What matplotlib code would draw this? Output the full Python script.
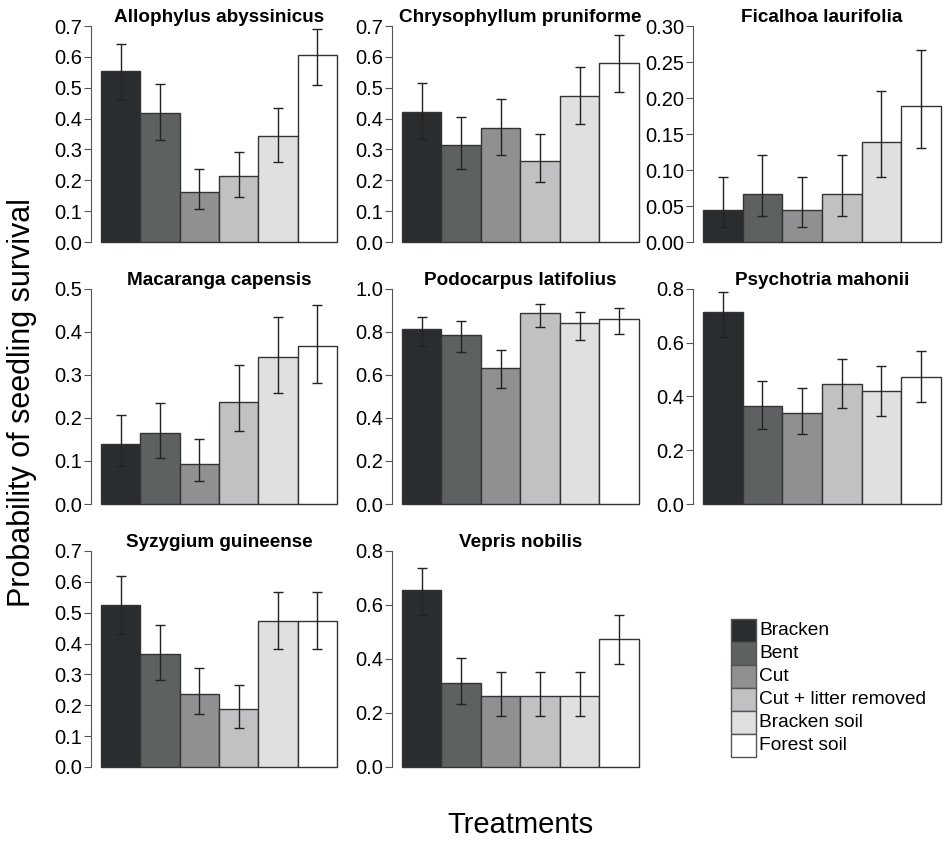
import matplotlib
matplotlib.use('Agg')
import matplotlib.pyplot as plt
import numpy as np

plt.rcParams['font.family'] = ['Liberation Sans', 'DejaVu Sans']

treatments = ['Bracken', 'Bent', 'Cut', 'Cut + litter removed', 'Bracken soil', 'Forest soil']
fills = ['#2a2d2f', '#5e6162', '#8f9091', '#c0c1c2', '#e0e0e0', '#ffffff']

species = ['Allophylus abyssinicus', 'Chrysophyllum pruniforme', 'Ficalhoa laurifolia',
           'Macaranga capensis', 'Podocarpus latifolius', 'Psychotria mahonii',
           'Syzygium guineense', 'Vepris nobilis']

# estimated survival probability and confidence limits, one row per species
prob = [
    [0.553, 0.418, 0.162, 0.213, 0.342, 0.607],
    [0.420, 0.315, 0.369, 0.264, 0.473, 0.581],
    [0.044, 0.067, 0.044, 0.067, 0.139, 0.189],
    [0.139, 0.164, 0.092, 0.237, 0.342, 0.368],
    [0.813, 0.787, 0.633, 0.888, 0.840, 0.860],
    [0.713, 0.366, 0.338, 0.445, 0.422, 0.472],
    [0.526, 0.366, 0.238, 0.187, 0.474, 0.474],
    [0.657, 0.312, 0.262, 0.262, 0.262, 0.474],
]
lower = [
    [0.459, 0.332, 0.108, 0.147, 0.260, 0.509],
    [0.333, 0.238, 0.282, 0.193, 0.381, 0.485],
    [0.021, 0.036, 0.021, 0.036, 0.090, 0.130],
    [0.089, 0.108, 0.053, 0.170, 0.258, 0.281],
    [0.736, 0.705, 0.540, 0.821, 0.762, 0.792],
    [0.622, 0.280, 0.260, 0.356, 0.328, 0.379],
    [0.431, 0.283, 0.171, 0.127, 0.381, 0.381],
    [0.564, 0.235, 0.190, 0.190, 0.190, 0.380],
]
upper = [
    [0.643, 0.513, 0.236, 0.293, 0.433, 0.691],
    [0.515, 0.406, 0.462, 0.351, 0.568, 0.671],
    [0.090, 0.121, 0.090, 0.121, 0.210, 0.266],
    [0.207, 0.236, 0.151, 0.323, 0.434, 0.463],
    [0.872, 0.851, 0.715, 0.930, 0.891, 0.910],
    [0.788, 0.459, 0.431, 0.540, 0.513, 0.569],
    [0.619, 0.460, 0.322, 0.266, 0.566, 0.566],
    [0.737, 0.405, 0.351, 0.351, 0.351, 0.563],
]
ytop = [0.7, 0.7, 0.30, 0.5, 1.0, 0.8, 0.7, 0.8]
ystep = [0.1, 0.1, 0.05, 0.1, 0.2, 0.2, 0.1, 0.2]
yfmt = ['%.1f', '%.1f', '%.2f', '%.1f', '%.1f', '%.1f', '%.1f', '%.1f']

W, H = 944, 842
fig = plt.figure(figsize=(W / 100, H / 100), dpi=100)

col_left = [91, 392, 693]
col_right = [337, 639, 941]
row_top = [26, 289, 551]
row_bot = [242, 504, 767]

edge = '#333333'
for i, name in enumerate(species):
    r, c = divmod(i, 3)
    l, t = col_left[c], row_top[r]
    ax = fig.add_axes([l / W, 1 - row_bot[r] / H, (col_right[c] - l) / W, (row_bot[r] - t) / H])
    x = np.arange(6)
    p = np.array(prob[i])
    err = [p - np.array(lower[i]), np.array(upper[i]) - p]
    bars = ax.bar(x, p, width=1, align='edge', color=fills, edgecolor=edge, linewidth=1)
    for b in bars:
        b.set_clip_on(False)
    ax.errorbar(x + 0.5, p, yerr=err, fmt='none', ecolor='#222222', elinewidth=1,
                capsize=3.6, capthick=1, clip_on=False)
    ax.set_xlim(-0.25, 6)
    ax.set_ylim(0, ytop[i])
    ticks = np.arange(0, ytop[i] + ystep[i] / 2, ystep[i])
    ax.set_yticks(ticks)
    ax.set_yticklabels([yfmt[i] % v for v in ticks])
    ax.set_xticks([])
    for s in ['top', 'right', 'bottom']:
        ax.spines[s].set_visible(False)
    ax.spines['left'].set_color('#555555')
    ax.tick_params(axis='y', direction='out', length=5, width=0.8, color='#555555',
                   labelsize=14.5, pad=1.5)
    ax.patch.set_visible(False)
    ax.annotate(name, xy=(3, 1), xycoords=('data', 'axes fraction'), xytext=(0, 3),
                textcoords='offset points', ha='center', va='baseline',
                fontsize=13.6, fontweight='bold')

# legend drawn as a small stack of boxes
lax = fig.add_axes([731 / W, 1 - 757 / H, 25 / W, 138 / H])
lbars = lax.barh(np.arange(6), 1, height=1, left=0, align='edge', color=fills,
                 edgecolor='#555555', linewidth=1)
for b in lbars:
    b.set_clip_on(False)
lax.set_xlim(0, 1)
lax.set_ylim(6, 0)
lax.axis('off')
for k, lab in enumerate(treatments):
    lax.text(1.12, k + 0.5, lab, va='center', ha='left', fontsize=13.8)

fig.text(22 / W, 1 - 403 / H, 'Probability of seedling survival', rotation=90,
         ha='center', va='center', fontsize=22)
fig.text(520 / W, 1 - 825 / H, 'Treatments', ha='center', va='center', fontsize=21)

fig.savefig('out.png', dpi=100)
